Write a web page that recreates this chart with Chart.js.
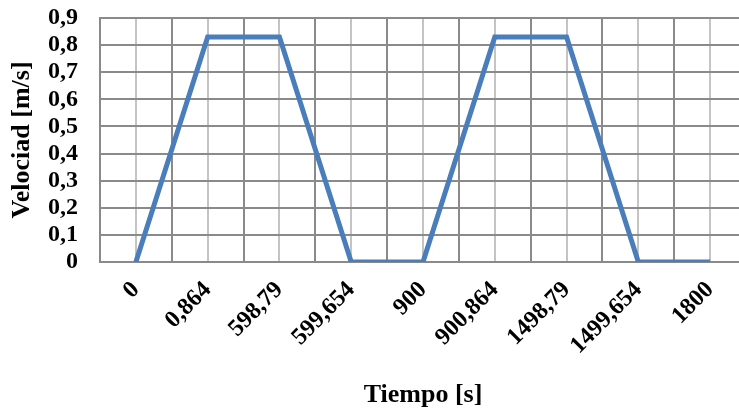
<!DOCTYPE html>
<html>
<head>
<meta charset="utf-8">
<script src="https://cdn.jsdelivr.net/npm/chart.js@4"></script>
<style>
  html, body { margin: 0; padding: 0; background: #fff; overflow: hidden; }
</style>
</head>
<body>
<canvas id="speedChart" width="748" height="411"></canvas>
<script>
// tiempo (s) as category labels, velocidad (m/s)
const tiempo = ["0", "0,864", "598,79", "599,654", "900", "900,864", "1498,79", "1499,654", "1800"];
const velocidad = [0, 0.83, 0.83, 0, 0, 0.83, 0.83, 0, 0];

const serif = "'Liberation Serif', 'Times New Roman', serif";

var ctx = document.getElementById("speedChart").getContext("2d");

var speedChart = new Chart(ctx, {
  type: "line",
  data: {
    labels: tiempo,
    datasets: [
      {
        label: "Velocidad",
        data: velocidad,
        borderColor: "#4a7ebb",
        backgroundColor: "#4a7ebb",
        borderWidth: 5,
        pointRadius: 0,
        tension: 0,
        fill: false,
      },
    ],
  },
  options: {
    responsive: false,
    animation: false,
    layout: {
      padding: { top: 0, right: 2, left: 0, bottom: 0 },
    },
    plugins: {
      legend: { display: false },
      tooltip: { enabled: false },
    },
    scales: {
      // light lines through each category centre
      x2: {
        type: "category",
        labels: tiempo,
        position: "top",
        offset: true,
        grid: {
          offset: false,
          color: "#c4c4c4",
          lineWidth: 2,
          drawTicks: false,
        },
        border: { display: false },
        ticks: { display: false },
        afterFit: (scale) => {
          scale.height = 0;
        },
      },
      x: {
        type: "category",
        offset: true,
        grid: {
          offset: true,
          color: "#8a8a8a",
          lineWidth: 2,
          drawTicks: false,
        },
        border: { color: "#8a8a8a", width: 2 },
        ticks: {
          color: "#000",
          font: { family: serif, size: 24, weight: "bold" },
          minRotation: 45,
          maxRotation: 45,
          autoSkip: false,
          padding: 14,
        },
        title: {
          display: true,
          text: "Tiempo [s]",
          color: "#000",
          font: { family: serif, size: 26, weight: "bold" },
          padding: { top: 5, bottom: 0 },
        },
        afterFit: (scale) => {
          scale.height = 149;
        },
      },
      y: {
        type: "linear",
        min: 0,
        max: 0.9,
        grid: {
          color: "#8a8a8a",
          lineWidth: 2,
          drawTicks: false,
        },
        border: { color: "#8a8a8a", width: 2 },
        ticks: {
          stepSize: 0.1,
          autoSkip: false,
          color: "#000",
          padding: 22,
          font: { family: serif, size: 24, weight: "bold" },
          callback: function (val) {
            return val === 0 ? "0" : val.toFixed(1).replace(".", ",");
          },
        },
        title: {
          display: true,
          text: "Velociad [m/s]",
          color: "#000",
          font: { family: serif, size: 26, weight: "bold" },
          padding: { top: 7, bottom: 0 },
        },
        afterFit: (scale) => {
          scale.width = 100;
          scale.paddingTop = 18;
        },
      },
    },
  },
});
</script>
</body>
</html>
